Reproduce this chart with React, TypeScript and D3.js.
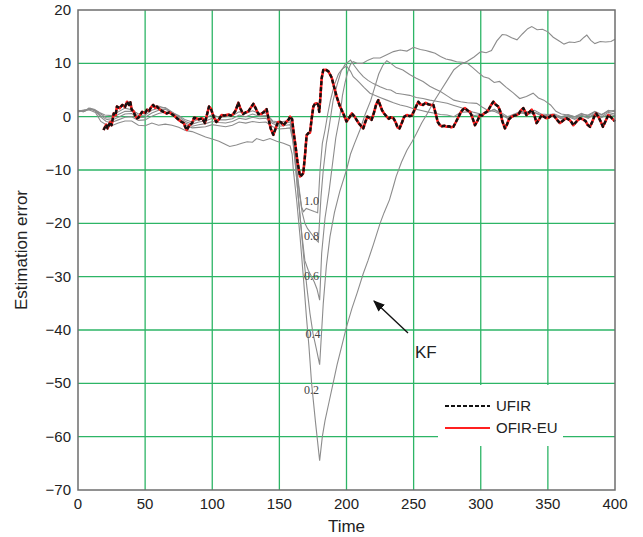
import React from 'react';
import * as d3 from 'd3';

const xTicks = [0, 50, 100, 150, 200, 250, 300, 350, 400];
const yTicks = [20, 10, 0, -10, -20, -30, -40, -50, -60, -70];

// UFIR estimation error (OFIR-EU coincides with it)
const ufir: [number, number][] = [
  [19, -2.5], [21, -1.5], [22, -2.2], [24, -1.0], [25, -1.6], [26.6, 0.6], [28, 0.3], [29, 1.9], [31, 1.6], [33, 2.2],
  [35, 1.8], [36.5, 2.8], [38, 2.2], [39, 2.7], [40, 1.3], [41.5, 1.0], [42.5, 0.2], [44, -0.3], [45, -0.2], [47.7, 0.9],
  [50, 0.7], [51.4, 1.3], [53, 1.1], [54.5, 1.8], [56, 2.2], [57.5, 1.7], [58.8, 1.9], [61, 1.3], [63.8, 0.9], [66, 0.6],
  [68, 0.8], [71, 0.3], [73.7, -0.3], [76, -0.8], [78.7, -1.2], [80, -2.0], [81, -2.5], [83, -1.6], [85, -1.2], [86.5, -0.2],
  [88, -0.3], [90, -0.5], [92.5, -0.3], [94.6, -1.2], [96, 0.3], [97.6, 1.9], [99, 1.5], [101, 0.0], [103, -1.0], [105, -0.5],
  [107, 0.3], [109, 0.2], [112, 0.4], [114, 0.2], [115.7, 0.5], [117.5, 1.2], [119.4, 2.6], [121, 1.5], [123, 0.5], [125, 0.8],
  [126.9, 1.0], [128.5, 1.6], [130.6, 2.4], [132.5, 1.5], [134.3, 0.5], [136.5, 0.5], [138.5, 0.9], [140.5, 1.4], [142, -0.5], [143.5, -2.2],
  [145.5, -3.4], [147.5, -2.0], [149, -1.0], [151, -1.0], [153, -1.6], [155.4, -0.9], [157, -0.5], [158, 0.0], [159.5, -0.5], [160.4, -2.5],
  [162, -5.5], [163.5, -8.5], [165.4, -11.2], [166.5, -11.0], [167.8, -10.6], [169, -7.5], [170.3, -3.5], [171.5, -3.1], [172.8, -3.0], [174, -0.5],
  [175.3, 1.9], [176.5, 2.4], [177.8, 2.5], [179, 2.2], [179.7, 0.9], [180.5, 3.5], [181.5, 7.2], [182.7, 8.75], [184.5, 8.8], [186.5, 8.5],
  [188, 7.8], [189, 7.3], [190.5, 5.8], [192.7, 3.75], [195, 2.0], [197.6, 0.6], [200, -0.9], [202, -0.2], [204, 0.6], [206, 0.0],
  [207.5, -0.6], [209, -1.2], [211, -1.8], [212.5, -2.2], [214, -1.0], [215.5, 0.0], [217, -0.2], [218.7, -0.6], [220.5, 0.8], [222, 2.2],
  [223.7, 3.1], [225, 2.2], [226.5, 1.2], [228, 0.6], [230, 0.0], [231.5, -0.4], [233, -0.1], [235, -0.3], [236.5, -1.0], [238, -2.0],
  [239.5, -2.2], [241, -1.3], [243, 0.0], [245, 0.3], [247, 0.1], [248.5, 0.2], [250, 0.9], [252, 2.0], [253.5, 2.8], [255, 2.3],
  [257, 2.2], [259, 2.6], [261, 2.3], [263, 2.2], [264.7, 2.2], [266.5, 0.5], [268, -1.0], [269.6, -1.6], [271, -1.8], [273, -1.7],
  [274.6, -1.9], [276.5, -1.8], [278, -2.0], [279.6, -1.9], [281.5, -1.0], [283.5, 0.0], [285.5, 1.0], [287, 1.4], [288.3, 1.6], [290, 1.2],
  [292, 0.9], [293.5, 0.0], [295.7, -1.6], [297.5, -0.8], [299.4, 0.3], [301, 0.2], [303, 0.7], [304.4, 0.9], [306, 1.4], [308, 2.3],
  [309.4, 2.8], [311, 2.3], [313, 1.9], [314.5, 1.0], [316, -0.8], [318, -2.2], [319.5, -1.5], [321, -0.5], [323, 0.0], [325, 0.2],
  [326.7, 0.3], [328.5, 0.6], [330, 1.2], [331.7, 1.6], [333, 1.0], [334, 0.3], [336, 0.8], [338, 1.3], [340, 0.2], [341.6, -1.2],
  [343.5, -0.5], [345.4, 0.3], [347, 0.0], [349, -0.3], [351, -0.1], [352.5, 0.2], [354, 0.3], [356, -0.3], [357.5, -0.8], [359, -1.2],
  [361, -0.8], [362.5, -0.5], [364, -0.3], [366, -0.6], [367.5, -1.0], [369, -1.6], [371, -1.0], [372.5, -0.6], [374, -0.3], [376, -0.5],
  [378, -0.8], [379.5, -1.5], [381.4, -1.9], [383, -1.0], [384.5, 0.0], [386, 0.6], [388, -0.2], [389.5, -1.0], [391, -1.9], [393, -0.8],
  [395, 0.3], [397, -0.1], [398.5, -0.5], [400, -0.9],
];
const ofirEu = ufir;

// KF estimation errors for different noise factors
const kf10: [number, number][] = [
  [0, 1.2], [4, 0.9], [8, 1.6], [12, 1.4], [16, 0.8], [20, 0.3], [25, 0.2], [30, 0.9], [35, 1.6], [40, 1.3],
  [45, 0.5], [50, 0.7], [55, 1.8], [60, 2.0], [65, 1.6], [70, 0.8], [75, 0.2], [80, -0.6], [85, -1.0], [90, -0.5],
  [95, -0.3], [100, 0.4], [105, -0.1], [110, 0.0], [115, 0.2], [120, 0.9], [125, 0.6], [130, 1.1], [135, 0.6], [140, 0.7],
  [145, -0.8], [150, -1.0], [155, -0.8], [158, -0.6], [160, -3], [161.5, -6], [163, -10], [165, -14], [166.6, -17], [168, -17.8],
  [170, -17.2], [173, -17.5], [176, -17.8], [178.5, -18], [180.3, -10], [182, -5], [184, -2.5], [186, 0.5], [188, 3], [191, 6],
  [194, 8], [197, 9], [200, 9.5], [203, 8.5], [205, 7.5], [207.6, 6.9], [210, 6.3], [213, 5.5], [217.5, 4.4], [221, 4.0],
  [225, 3.6], [230, 3.1], [235, 2.6], [240, 2.2], [245, 1.9], [250, 1.5], [255, 1.2], [260, 0.9], [265, 0.7], [270, 0.4],
  [275, 0.3], [280, 0.0], [285, 0.8], [290, 0.9], [295, 0.2], [300, 0.4], [305, 0.8], [310, 1.4], [315, 0.5], [320, -0.3],
  [325, 0.3], [330, 0.9], [335, 0.6], [340, 0.8], [345, 0.2], [350, 0.2], [355, 0.3], [360, -0.2], [365, 0.2], [370, -0.3],
  [375, 0.3], [380, -0.2], [385, 0.6], [390, 0.0], [395, 0.8], [400, 0.5],
];
const kf08: [number, number][] = [
  [0, 1.0], [5, 1.1], [9, 1.5], [13, 1.2], [17, 0.5], [21, -0.2], [25, -0.3], [30, 0.4], [35, 1.0], [40, 1.0],
  [45, 0.2], [50, 0.3], [55, 1.2], [60, 1.6], [65, 1.7], [70, 0.9], [75, 0.0], [80, -0.9], [85, -1.4], [90, -1.0],
  [95, -0.8], [100, -0.3], [105, -0.6], [110, -0.6], [115, -0.4], [120, 0.3], [125, 0.0], [130, 0.5], [135, 0.1], [140, 0.2],
  [145, -1.0], [150, -1.4], [155, -1.2], [158, -1.0], [160, -3.5], [161.5, -7], [163, -10.5], [165, -14.5], [167, -18], [169, -20],
  [171, -21], [174, -22], [177, -23], [179, -23.5], [181, -15], [182.7, -10], [185, -5], [187, -2], [190, 3], [193, 6],
  [196, 8.5], [199, 9.8], [203, 10.6], [206, 9.5], [209, 8.5], [212.5, 7.5], [216, 6.8], [220, 6.2], [225, 5.6], [230, 5.1],
  [233, 5.0], [237, 4.4], [242, 4.2], [247, 4.0], [252, 3.6], [257, 3.4], [262, 3.1], [267, 2.9], [271, 2.7], [275, 2.5],
  [280, 2.1], [285, 1.7], [290, 1.25], [295, 0.8], [300, 0.5], [305, 0.9], [310, 1.3], [315, 0.8], [320, 0.0], [325, 0.5],
  [330, 1.0], [335, 0.9], [340, 1.2], [345, 0.5], [350, 0.4], [355, 0.5], [360, 0.0], [365, 0.4], [370, 0.0], [375, 0.6],
  [380, 0.1], [385, 0.9], [390, 0.3], [395, 1.2], [400, 0.9],
];
const kf06: [number, number][] = [
  [0, 0.9], [5, 1.2], [9, 1.4], [13, 1.1], [17, 0.2], [21, -0.5], [25, -0.7], [30, -0.1], [35, 0.5], [40, 0.6],
  [45, -0.2], [50, -0.1], [55, 0.7], [60, 1.2], [65, 1.4], [70, 0.8], [75, -0.3], [80, -1.2], [85, -1.8], [90, -1.5],
  [95, -1.3], [100, -0.9], [105, -1.1], [110, -1.2], [115, -0.9], [120, -0.3], [125, -0.5], [130, -0.1], [135, -0.4], [140, -0.3],
  [145, -1.3], [150, -1.8], [155, -1.6], [158, -1.5], [160, -4], [162, -9], [164, -15], [166.5, -21.5], [169, -27], [171.5, -28.8],
  [174, -30], [176, -31], [178, -32.3], [180, -34.4], [181.5, -25.6], [184, -19], [187, -14], [189, -10], [192, -4], [195, 0],
  [197, 4], [199, 6.5], [201, 8.5], [203, 9.8], [205, 10.3], [208, 10.0], [212, 10.0], [216, 10.6], [220, 11.0], [225, 11.0],
  [230, 11.6], [235, 12.2], [240, 12.5], [245, 12.3], [250, 13.0], [255, 12.6], [259, 12.4], [262, 12.2], [266, 11.9], [270, 11.3],
  [274, 10.8], [278, 10.6], [282, 10.3], [286, 10.2], [290, 10.0], [294, 9.2], [298, 8.3], [302, 7.5], [306, 7.2], [310, 6.4],
  [314, 6.6], [319, 5.5], [324, 4.5], [329, 3.4], [334, 3.8], [339, 4.4], [343, 3.5], [347, 3.1], [352, 2.2], [356, 1.0],
  [360, 0.5], [365, 0.3], [370, 0.0], [375, 0.4], [380, 0.3], [385, 1.0], [390, 0.4], [395, 1.0], [400, 1.2],
];
const kf04: [number, number][] = [
  [0, 1.1], [5, 1.0], [9, 1.6], [13, 1.0], [17, -0.1], [21, -0.9], [25, -1.1], [30, -0.6], [35, -0.1], [40, 0.0],
  [45, -0.7], [50, -0.6], [55, 0.1], [60, 0.6], [65, 0.9], [70, 0.5], [75, -0.6], [80, -1.5], [85, -2.1], [90, -2.0],
  [95, -1.9], [100, -1.5], [105, -1.7], [110, -1.9], [115, -1.6], [120, -1.0], [125, -1.2], [130, -0.9], [135, -1.1], [140, -1.0],
  [145, -1.9], [150, -2.3], [155, -2.2], [158, -2.1], [160, -4.5], [161.5, -8], [163, -12], [165.5, -19], [168, -26], [170.5, -32],
  [172.8, -36.9], [175, -40.6], [177.5, -43.5], [180, -46.5], [182.7, -35], [185, -28], [187.7, -22.5], [191, -18], [195, -14], [200, -10],
  [203, -7], [206, -5], [210, -2.5], [214, 0.5], [218, 3], [221, 5.5], [224, 8], [227, 9.6], [230, 10.5], [233, 10.0],
  [237, 9.2], [242, 8.75], [247, 7.9], [252, 7.2], [257, 6.6], [262, 5.7], [266, 5.2], [270, 4.7], [275, 3.9], [280, 3.1],
  [285, 2.8], [290, 2.6], [297, 2.5], [301, 1.8], [305, 1.2], [310, 1.0], [315, 0.4], [320, -0.3], [325, 0.1], [330, 0.7],
  [335, 0.4], [340, 0.8], [345, 0.3], [350, 0.0], [355, 0.2], [360, -0.4], [365, 0.0], [370, -0.5], [375, 0.2], [380, -0.3],
  [385, 0.5], [390, -0.2], [395, 0.5], [400, 0.2],
];
const kf02: [number, number][] = [
  [0, 1.0], [5, 1.3], [9, 1.2], [13, 0.8], [17, -0.9], [21, -1.5], [25, -1.7], [30, -1.2], [35, -0.8], [40, -0.8],
  [45, -1.6], [50, -1.7], [55, -1.2], [60, -1.6], [65, -1.4], [70, -1.6], [75, -2.0], [80, -2.6], [85, -2.8], [90, -3.3],
  [95, -3.8], [100, -4.2], [105, -4.6], [110, -5.2], [113, -5.6], [118, -5.3], [122, -5.0], [126, -4.7], [130, -4.8], [133, -4.1],
  [138, -4.5], [143, -4.1], [148, -4.6], [153, -5.0], [158, -5.5], [159.5, -7], [160.4, -10], [163, -16], [165.4, -22.5], [168, -30.5],
  [170.3, -38], [172, -43], [174, -50], [177, -57.5], [180, -64.5], [182, -60], [184, -57], [187, -53.5], [190, -50], [193, -46.5],
  [196, -43.5], [200, -39.4], [204, -36], [208, -33], [212.5, -29.4], [216, -27], [220, -24], [225, -20], [228, -18], [232, -15.6],
  [235, -13], [237, -11.2], [241, -8.5], [245, -6.3], [249, -4.6], [252, -3.2], [256, -1.2], [260, 0.5], [265, 2.8], [270, 4.8],
  [275, 6.8], [280, 8.8], [285, 9.8], [290, 10.4], [295, 11.2], [300, 12.2], [304, 12.0], [308, 12.4], [312, 14.2], [316, 15.4],
  [319, 15.3], [323, 14.8], [327, 14.4], [331, 15.5], [335, 16.5], [338, 16.9], [342, 16.3], [346, 16.4], [350, 15.9], [354, 14.9],
  [359, 14.1], [362, 13.6], [366, 14.0], [370, 13.9], [374, 14.2], [377, 14.9], [379, 15.3], [382, 14.3], [385, 13.7], [389, 14.1],
  [393, 14.0], [397, 14.1], [400, 14.5],
];
const kfSeries = [kf10, kf08, kf06, kf04, kf02];
const kfLabels = ['1.0', '0.8', '0.6', '0.4', '0.2'];
const kfLabelPos: [number, number][] = [[174, -16], [174, -22.6], [174, -30.2], [175, -41], [174, -51.5]];

const legendNames = ['UFIR', 'OFIR-EU'];

const W = 643, H = 537;
const M = { left: 78, right: 615, top: 10, bottom: 490 };

export default function App() {
  const x = d3.scaleLinear().domain([0, 400]).range([M.left, M.right]);
  const y = d3.scaleLinear().domain([-70, 20]).range([M.bottom, M.top]);
  const line = d3.line<[number, number]>().x(d => x(d[0])).y(d => y(d[1]));
  const grid = '#2db566';
  const font = 'Liberation Sans, Arial, sans-serif';
  return (
    <div style={{ position: 'absolute', left: 0, top: 0 }}>
      <svg width={W} height={H} style={{ display: 'block', background: '#fff' }}>
        {xTicks.slice(1, -1).map(t => (
          <line key={'gx' + t} x1={x(t)} x2={x(t)} y1={M.top} y2={M.bottom} stroke={grid} strokeWidth={1.3} />
        ))}
        {yTicks.slice(1, -1).map(v => (
          <line key={'gy' + v} x1={M.left} x2={M.right} y1={y(v)} y2={y(v)} stroke={grid} strokeWidth={1.3} />
        ))}
        <rect x={438} y={385} width={125} height={61} fill="#fff" />
        {kfSeries.map((s, i) => (
          <path key={'kf' + i} d={line(s) || ''} fill="none" stroke="#8c8c8c" strokeWidth={1.1} />
        ))}
        {kfLabels.map((l, i) => (
          <text key={'kl' + i} x={x(kfLabelPos[i][0])} y={y(kfLabelPos[i][1])} textAnchor="middle" dominantBaseline="middle"
            fontFamily="Liberation Serif, Times New Roman, serif" fontSize={12} fill="#444">{l}</text>
        ))}
        <path d={line(ofirEu) || ''} fill="none" stroke="#ff2020" strokeWidth={2.6} strokeLinejoin="round" />
        <path d={line(ufir) || ''} fill="none" stroke="#111" strokeWidth={2.4} strokeDasharray="4 2" strokeLinejoin="round" />
        <rect x={M.left} y={M.top} width={M.right - M.left} height={M.bottom - M.top} fill="none" stroke="#6e6e6e" strokeWidth={1.5} />
        {xTicks.map(t => (
          <text key={'xt' + t} x={x(t)} y={509} textAnchor="middle" fontFamily={font} fontSize={15} fill="#222">{t}</text>
        ))}
        {yTicks.map(v => (
          <text key={'yt' + v} x={71} y={y(v) + 5} textAnchor="end" fontFamily={font} fontSize={15} fill="#222">{v < 0 ? '\u2212' + Math.abs(v) : v}</text>
        ))}
        <text x={(M.left + M.right) / 2} y={532} textAnchor="middle" fontFamily={font} fontSize={17} fill="#222">Time</text>
        <text transform={`translate(27,${(M.top + M.bottom) / 2}) rotate(-90)`} textAnchor="middle" fontFamily={font} fontSize={17} fill="#222">Estimation error</text>
        <defs>
          <marker id="ah" viewBox="0 0 10 10" refX="9" refY="5" markerWidth="9" markerHeight="9" orient="auto-start-reverse">
            <path d="M0,1 L10,5 L0,9 Z" fill="#111" />
          </marker>
        </defs>
        <line x1={408} y1={333} x2={374} y2={301} stroke="#111" strokeWidth={1.3} markerEnd="url(#ah)" />
        <text x={415} y={358} fontFamily={font} fontSize={17} fill="#222">KF</text>
        <line x1={445} x2={490} y1={406} y2={406} stroke="#111" strokeWidth={2} strokeDasharray="4 2" />
        <text x={496} y={411} fontFamily={font} fontSize={15} fill="#222">{legendNames[0]}</text>
        <line x1={445} x2={490} y1={428} y2={428} stroke="#ff2020" strokeWidth={2.2} />
        <text x={496} y={433} fontFamily={font} fontSize={15} fill="#222">{legendNames[1]}</text>
      </svg>
    </div>
  );
}
